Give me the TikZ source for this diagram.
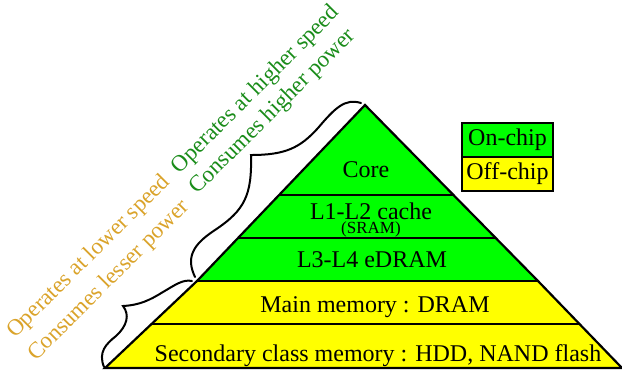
\documentclass[tikz,border=0pt]{standalone}
\usepackage{fontspec}
\setmainfont{Liberation Serif}
\usetikzlibrary{shapes, positioning, calc}
\definecolor{onchip}{HTML}{00FF00}
\definecolor{offchip}{HTML}{FFFF00}
\definecolor{fastgreen}{HTML}{1A8C1A}
\definecolor{slowgold}{HTML}{DAA32A}
\tikzset{
  layer/.style={font=\fontsize{12}{14}\selectfont, anchor=base, inner sep=0},
  note/.style={font=\fontsize{11.5}{14}\selectfont, rotate=45, inner sep=0},
  key/.style={draw, line width=1.4pt, outer sep=0, minimum width=45.5pt, minimum height=17pt, inner sep=0, font=\fontsize{12}{14}\selectfont},
  divider/.style={line width=1.4pt},
  curlybrace/.style={line width=1pt, line cap=round}
}
\begin{document}
\begin{tikzpicture}[x=0.5pt, y=-0.5pt]
    \useasboundingbox (0,0) rectangle (622,372);

    \coordinate (apex) at (365,105);
    \coordinate (gl) at (197,281);
    \coordinate (gr) at (538,281);
    \coordinate (bl) at (105,368);
    \coordinate (br) at (622,368);

    \fill[offchip] (gl) -- (bl) -- (br) -- (gr) -- cycle;
    \fill[onchip] (apex) -- (gl) -- (gr) -- cycle;
    \begin{scope}
        \clip (apex) -- (gl) -- (bl) -- (br) -- (gr) -- cycle;
        \foreach \y in {195, 238, 281, 324}
            \draw[divider] (0,\y) -- (622,\y);
    \end{scope}
    \draw[line width=1.1pt] (apex) -- (gl) -- (bl) -- (br) -- (gr) -- cycle;

    \node[layer] (core) at (366,177) {Core};
    \node[layer] (l12) at (371,219) {L1-L2 cache};
    \node[layer, font=\fontsize{8.5}{10}\selectfont] (sram) at (371,233) {(SRAM)};
    \node[layer] (l34) at (372,267) {L3-L4 eDRAM};
    \node[layer] (mainmem) at (375,312) {Main memory : DRAM};
    \node[layer] (secmem) at (378,361) {Secondary class memory : HDD, NAND flash};

    \node[key, fill=onchip] (onkey) at (507.5,140) {On-chip};
    \node[key, fill=offchip, below=0pt of onkey] (offkey) {Off-chip};

    \node[note, text=fastgreen] (hispeed) at (256,90) {Operates at higher speed};
    \node[note, text=fastgreen] (hipower) at (273,112) {Consumes higher power};
    \node[note, text=slowgold] (lospeed) at (89,257) {Operates at lower speed};
    \node[note, text=slowgold] (lopower) at (109,281) {Consumes lesser power};

    \draw[curlybrace] (195,277) .. controls (186,258) and (192,245) .. (215,230)
        .. controls (245,210) and (252,195) .. (251,155)
        .. controls (285,155) and (300,148) .. (318,128)
        .. controls (335,108) and (345,98) .. (361,103);
    \draw[curlybrace] (104,367) .. controls (98,352) and (106,344) .. (116,336)
        .. controls (127,326) and (130,315) .. (123,306)
        .. controls (140,305) and (150,300) .. (163,292)
        .. controls (175,285) and (183,279) .. (192,281);
\end{tikzpicture}
\end{document}
